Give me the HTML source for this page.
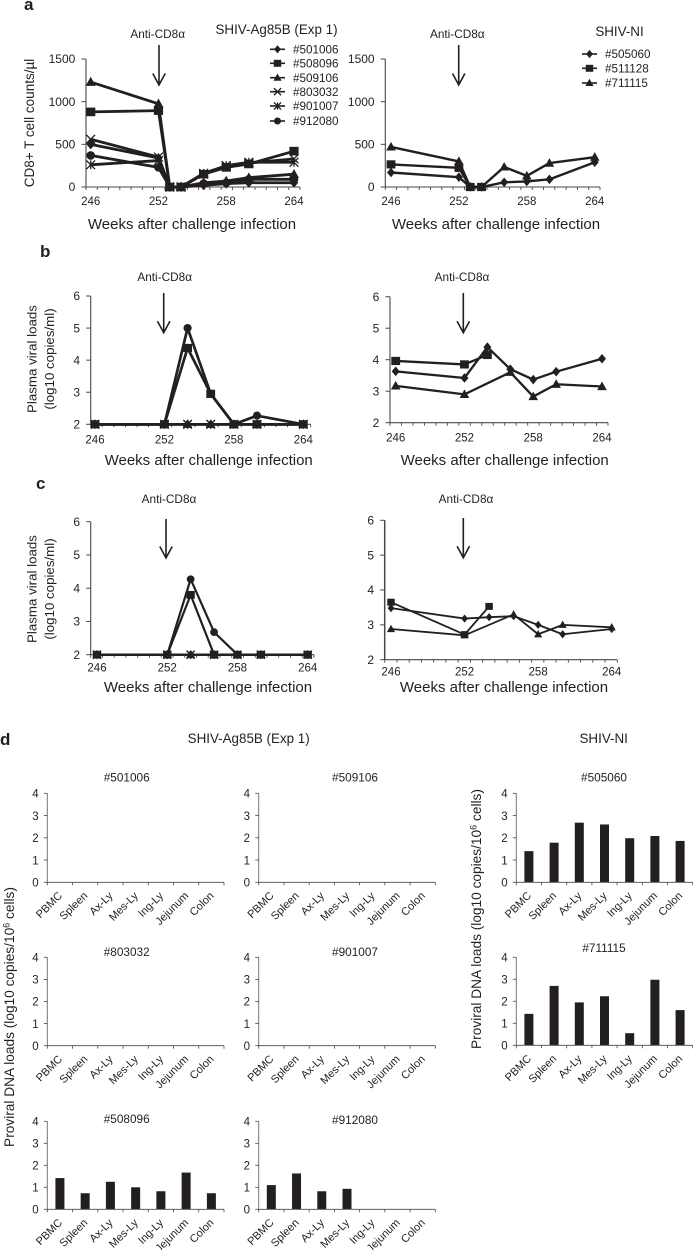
<!DOCTYPE html>
<html lang="en">
<head>
<meta charset="utf-8">
<title>CD8+ T cell counts, viral loads and proviral DNA loads</title>
<style>
html,body{margin:0;padding:0;background:#fff;}
svg{display:block;filter:blur(0.3px);}
text{font-family:"Liberation Sans",Arial,sans-serif;fill:#231f20;}
</style>
</head>
<body>
<svg id="figure" xmlns="http://www.w3.org/2000/svg" width="693" height="1250" viewBox="0 0 693 1250"></svg>
<script>
/* ---------- categories and tick labels ---------- */
const weeksA = [246, 252, 253, 254, 256, 258, 260, 264];
const weeksBC = [246, 252, 254, 256, 258, 260, 264];
const weekTickLabels = [246, 252, 258, 264];
const cd8Ticks = [0, 500, 1000, 1500];
const logTicks = [2, 3, 4, 5, 6];
const dnaTicks = [0, 1, 2, 3, 4];
const tissues = ['PBMC', 'Spleen', 'Ax-Ly', 'Mes-Ly', 'Ing-Ly', 'Jejunum', 'Colon'];

/* ---------- panel a, SHIV-Ag85B ---------- */
const aLeft501006 = [500, 340, 0, 0, 20, 40, 50, 50];
const aLeft508096 = [880, 895, 0, 0, 150, 230, 270, 420];
const aLeft509106 = [1230, 975, 0, 0, 50, 70, 110, 150];
const aLeft803032 = [560, 350, 0, 0, 150, 240, 280, 330];
const aLeft901007 = [260, 310, 0, 0, 160, 250, 290, 290];
const aLeft912080 = [370, 230, 0, 0, 40, 50, 90, 90];

/* ---------- panel a, SHIV-NI ---------- */
const aRight505060 = [170, 115, 0, 0, 55, 65, 90, 290];
const aRight511128 = [265, 225, 0, 0, null, null, null, null];
const aRight711115 = [470, 300, 0, 0, 235, 130, 280, 350];

/* ---------- panel b, SHIV-Ag85B ---------- */
const bLeft501006 = [2, 2, 2, 2, 2, 2, 2];
const bLeft509106 = [2, 2, 2, 2, 2, 2, 2];
const bLeft803032 = [2, 2, 2, 2, 2, 2, 2];
const bLeft901007 = [2, 2, 2, 2, 2, 2, 2];
const bLeft912080 = [2, 2, 5, 2.95, 2, 2.27, 2];
const bLeft508096 = [2, 2, 4.38, 2.95, 2, 2, 2];

/* ---------- panel b, SHIV-NI ---------- */
const bRight505060 = [3.63, 3.42, 4.4, 3.7, 3.37, 3.62, 4.03];
const bRight511128 = [3.96, 3.85, 4.15, null, null, null, null];
const bRight711115 = [3.17, 2.9, null, 3.6, 2.83, 3.22, 3.15];

/* ---------- panel c, SHIV-Ag85B ---------- */
const cLeft501006 = [2, 2, 2, 2, 2, 2, 2];
const cLeft509106 = [2, 2, 2, 2, 2, 2, 2];
const cLeft803032 = [2, 2, 2, 2, 2, 2, 2];
const cLeft901007 = [2, 2, 2, 2, 2, 2, 2];
const cLeft912080 = [2, 2, 4.27, 2.68, 2, 2, 2];
const cLeft508096 = [2, 2, 3.8, 2, 2, 2, 2];

/* ---------- panel c, SHIV-NI ---------- */
const cRight505060 = [3.48, 3.18, 3.22, 3.25, 3.0, 2.73, 2.88];
const cRight511128 = [3.65, 2.72, 3.53, null, null, null, null];
const cRight711115 = [2.88, 2.7, null, 3.3, 2.73, 3.0, 2.93];

/* ---------- panel d, proviral DNA ---------- */
const dna501006 = [0, 0, 0, 0, 0, 0, 0];
const dna509106 = [0, 0, 0, 0, 0, 0, 0];
const dna803032 = [0, 0, 0, 0, 0, 0, 0];
const dna901007 = [0, 0, 0, 0, 0, 0, 0];
const dna508096 = [1.42, 0.73, 1.25, 1.0, 0.82, 1.67, 0.73];
const dna912080 = [1.1, 1.63, 0.82, 0.93, 0, 0, 0];
const dna505060 = [1.4, 1.78, 2.68, 2.6, 1.98, 2.08, 1.86];
const dna711115 = [1.43, 2.7, 1.95, 2.23, 0.55, 2.98, 1.6];

const INK = '#231f20';
const AXIS = '#4a4748';
const svg = document.getElementById('figure');
const NS = 'http://www.w3.org/2000/svg';

function make(parent, tag, attrs) {
  const el = document.createElementNS(NS, tag);
  for (const k in attrs) el.setAttribute(k, attrs[k]);
  parent.appendChild(el);
  return el;
}
function group(parent, name) {
  const g = document.createElementNS(NS, 'g');
  
  
  parent.appendChild(g);
  return g;
}
function label(parent, name, str, x, y, size, anchor, rotate, weight) {
  const t = document.createElementNS(NS, 'text');
  
  
  t.setAttribute('x', x);
  t.setAttribute('y', y);
  t.setAttribute('font-size', size);
  t.setAttribute('text-anchor', anchor || 'middle');
  if (rotate) t.setAttribute('transform', 'rotate(' + rotate + ' ' + x + ' ' + y + ')');
  if (weight) t.setAttribute('font-weight', weight);
  t.textContent = str;
  parent.appendChild(t);
  return t;
}
function marker(parent, shape, x, y, k) {
  const s = k || 1;
  const line = {stroke: INK, 'stroke-width': 1.3, fill: 'none'};
  if (shape === 'diamond') {
    make(parent, 'polygon', {points: [x, y - 4.8 * s, x + 4 * s, y, x, y + 4.8 * s, x - 4 * s, y].join(','), fill: INK});
  } else if (shape === 'square') {
    make(parent, 'rect', {x: x - 4.4 * s, y: y - 4.1 * s, width: 8.8 * s, height: 8.2 * s, fill: INK});
  } else if (shape === 'triangle') {
    make(parent, 'polygon', {points: [x, y - 5 * s, x + 4.8 * s, y + 3.6 * s, x - 4.8 * s, y + 3.6 * s].join(','), fill: INK});
  } else if (shape === 'circle') {
    make(parent, 'circle', {cx: x, cy: y, r: 4.1 * s, fill: INK});
  } else if (shape === 'cross' || shape === 'star') {
    const r = 4.2 * s;
    make(parent, 'line', Object.assign({x1: x - r, y1: y - r, x2: x + r, y2: y + r}, line));
    make(parent, 'line', Object.assign({x1: x - r, y1: y + r, x2: x + r, y2: y - r}, line));
    if (shape === 'star') make(parent, 'line', Object.assign({x1: x, y1: y - r, x2: x, y2: y + r}, line));
  }
}

function linePanel(p) {
  const root = group(svg, p.name);
  const xOf = w => p.p0 + (w - 246) * (p.p1 - p.p0) / 18;
  const yOf = v => p.yBot - (v - p.vMin) * (p.yBot - p.yTop) / (p.vMax - p.vMin);

  const axisY = group(root, p.name + '-y-axis');
  make(axisY, 'line', {x1: p.x0, y1: p.yTop, x2: p.x0, y2: p.yBot, stroke: AXIS, 'stroke-width': p.axisW || 1.1});
  p.yTicks.forEach(v => {
    make(axisY, 'line', {x1: p.x0 - 4.5, y1: yOf(v), x2: p.x0, y2: yOf(v), stroke: AXIS, 'stroke-width': 1});
    label(axisY, p.name + '-y-tick-label', String(v), p.x0 - 10.7, yOf(v) + 4.2, 12, 'end');
  });

  const axisX = group(root, p.name + '-x-axis');
  make(axisX, 'line', {x1: p.x0 - 0.5, y1: p.yBot, x2: p.x1, y2: p.yBot, stroke: AXIS, 'stroke-width': 1.1});
  const n = 19;
  for (let i = 0; i <= n; i++) {
    const tx = p.x0 + i * (p.x1 - p.x0) / n;
    make(axisX, 'line', {x1: tx, y1: p.yBot, x2: tx, y2: p.yBot + 3, stroke: AXIS, 'stroke-width': 0.9});
  }
  weekTickLabels.forEach(w => {
    label(axisX, p.name + '-x-tick-label', String(w), xOf(w), p.tickY, 11.5);
  });
  label(root, p.name + '-x-axis-title', 'Weeks after challenge infection', p.titleX, p.titleY, 15);

  p.series.forEach(s => {
    const g = group(root, p.name + '-series-' + s.id);
    const run = [];
    s.values.forEach((v, i) => {
      if (v !== null) run.push(xOf(p.weeks[i]) + ',' + yOf(v));
    });
    make(g, 'polyline', {points: run.join(' '), fill: 'none', stroke: INK, 'stroke-width': p.lw, 'stroke-linejoin': 'round'});
    s.values.forEach((v, i) => {
      if (v !== null) marker(g, s.shape, xOf(p.weeks[i]), yOf(v), p.ms);
    });
  });

  const arrow = group(root, p.name + '-anti-cd8-arrow');
  make(arrow, 'line', {x1: p.arrowX, y1: p.arrowTop, x2: p.arrowX, y2: p.arrowBot - 1, stroke: INK, 'stroke-width': 1.6});
  make(arrow, 'polyline', {points: [p.arrowX - 6.2, p.arrowBot - 11.5, p.arrowX, p.arrowBot, p.arrowX + 6.2, p.arrowBot - 11.5].join(' '), fill: 'none', stroke: INK, 'stroke-width': 1.6});
  label(root, p.name + '-anti-cd8-label', 'Anti-CD8\u03B1', p.antiX, p.antiY, 11.8);
}

function barPanel(p) {
  const root = group(svg, 'bar-panel-' + p.id);
  const yOf = v => p.yBot - v * (p.yBot - p.yTop) / 4;
  const band = (p.x1 - p.x0) / tissues.length;
  label(root, 'bar-panel-title-' + p.id, '#' + p.id, p.titleX, p.titleY, 11.8);

  tissues.forEach((name, i) => {
    const b = document.createElementNS(NS, 'rect');
    
    
    b.setAttribute('x', p.x0 + band * (i + 0.5) - 4.5);
    b.setAttribute('y', yOf(p.values[i]));
    b.setAttribute('width', 9);
    b.setAttribute('height', yOf(0) - yOf(p.values[i]));
    b.setAttribute('fill', INK);
    root.appendChild(b);
  });

  const axisY = group(root, 'y-axis-' + p.id);
  make(axisY, 'line', {x1: p.x0, y1: p.yTop, x2: p.x0, y2: p.yBot, stroke: '#6a6768', 'stroke-width': 0.9});
  dnaTicks.forEach(v => {
    make(axisY, 'line', {x1: p.x0 - 3.5, y1: yOf(v), x2: p.x0, y2: yOf(v), stroke: AXIS, 'stroke-width': 0.8});
    label(axisY, 'y-tick-label-' + p.id, String(v), p.x0 - 8.7, yOf(v) + 4.2, 11.5, 'end');
  });
  const axisX = group(root, 'x-axis-' + p.id);
  make(axisX, 'line', {x1: p.x0 - 0.5, y1: p.yBot, x2: p.x1, y2: p.yBot, stroke: AXIS, 'stroke-width': 0.9});
  for (let i = 0; i <= tissues.length; i++) {
    const tx = p.x0 + i * band;
    make(axisX, 'line', {x1: tx, y1: p.yBot, x2: tx, y2: p.yBot + 3, stroke: AXIS, 'stroke-width': 0.8});
  }
  tissues.forEach((name, i) => {
    label(axisX, 'x-tick-label-' + p.id, name, p.x0 + band * (i + 0.5) + 3, p.yBot + 14, 11, 'end', -45);
  });
}

function legend(name, rows, markerX, textX) {
  const g = group(svg, name);
  rows.forEach(r => {
    const e = group(g, 'legend-entry-' + r.id);
    make(e, 'line', {x1: markerX - 7.5, y1: r.y, x2: markerX + 7.5, y2: r.y, stroke: INK, 'stroke-width': 1.6});
    marker(e, r.shape, markerX, r.y, 0.85);
    label(e, 'legend-label-' + r.id, '#' + r.id, textX, r.y + 4.2, 11.7, 'start');
  });
}

/* ---------- panel letters and group titles ---------- */
const letters = group(svg, 'panel-letters');
label(letters, 'panel-letter-a', 'a', 24, 10, 17, 'start', 0, 'bold');
label(letters, 'panel-letter-b', 'b', 40, 257, 17, 'start', 0, 'bold');
label(letters, 'panel-letter-c', 'c', 36, 489, 17, 'start', 0, 'bold');
label(letters, 'panel-letter-d', 'd', 0, 745, 17, 'start', 0, 'bold');

label(svg, 'title-shiv-ag85b-panel-a', 'SHIV-Ag85B (Exp 1)', 276.5, 34, 13.4);
label(svg, 'title-shiv-ni-panel-a', 'SHIV-NI', 619.5, 36, 13.4);
label(svg, 'title-shiv-ag85b-panel-d', 'SHIV-Ag85B (Exp 1)', 248.7, 743, 13.4);
label(svg, 'title-shiv-ni-panel-d', 'SHIV-NI', 603.7, 743, 13.4);

label(svg, 'y-axis-title-cd8-counts', 'CD8+ T cell counts/\u00B5l', 34, 123, 13.5, 'middle', -90);
label(svg, 'y-axis-title-viral-loads-b-1', 'Plasma viral loads', 36.5, 359, 13.3, 'middle', -90);
label(svg, 'y-axis-title-viral-loads-b-2', '(log10 copies/ml)', 54, 359, 13.3, 'middle', -90);
label(svg, 'y-axis-title-viral-loads-c-1', 'Plasma viral loads', 36.5, 589, 13.3, 'middle', -90);
label(svg, 'y-axis-title-viral-loads-c-2', '(log10 copies/ml)', 54, 589, 13.3, 'middle', -90);

function dnaTitle(name, x, y) {
  const t = label(svg, name, 'Proviral DNA loads (log10 copies/10', x, y, 13.7, 'middle', -90);
  const sup = make(t, 'tspan', {dy: -4.5, 'font-size': 9});
  sup.textContent = '6';
  const rest = make(t, 'tspan', {dy: 4.5});
  rest.textContent = ' cells)';
}
dnaTitle('y-axis-title-proviral-left', 14, 1017);
dnaTitle('y-axis-title-proviral-right', 481, 919);

/* ---------- line panels ---------- */
linePanel({name: 'cd8-ag85b-chart', x0: 86, x1: 300, p0: 90.7, p1: 294, yTop: 59, yBot: 187, vMin: 0, vMax: 1500,
  yTicks: cd8Ticks, weeks: weeksA, lw: 2.8, ms: 1.05, tickY: 205, titleX: 192, titleY: 229,
  arrowX: 159, arrowTop: 45, arrowBot: 85, antiX: 157.7, antiY: 38.2,
  series: [
    {id: '501006', shape: 'diamond', values: aLeft501006},
    {id: '803032', shape: 'cross', values: aLeft803032},
    {id: '901007', shape: 'star', values: aLeft901007},
    {id: '509106', shape: 'triangle', values: aLeft509106},
    {id: '912080', shape: 'circle', values: aLeft912080},
    {id: '508096', shape: 'square', values: aLeft508096}
  ]});
linePanel({name: 'cd8-ni-chart', x0: 385.3, x1: 600, p0: 391, p1: 594.7, yTop: 59, yBot: 187, vMin: 0, vMax: 1500,
  yTicks: cd8Ticks, weeks: weeksA, lw: 2.4, ms: 1, tickY: 205, titleX: 496, titleY: 229,
  arrowX: 458.7, arrowTop: 45, arrowBot: 85, antiX: 457.3, antiY: 38.2,
  series: [
    {id: '505060', shape: 'diamond', values: aRight505060},
    {id: '711115', shape: 'triangle', values: aRight711115},
    {id: '511128', shape: 'square', values: aRight511128}
  ]});
linePanel({name: 'plasma-ag85b-chart-b', x0: 90.7, x1: 310.7, p0: 95, p1: 303.3, yTop: 296, yBot: 424.3, vMin: 2, vMax: 6,
  yTicks: logTicks, weeks: weeksBC, lw: 2.7, ms: 1, tickY: 443.5, titleX: 208.7, titleY: 465,
  arrowX: 163.7, arrowTop: 293, arrowBot: 332.7, antiX: 164.7, antiY: 281,
  series: [
    {id: '501006', shape: 'diamond', values: bLeft501006},
    {id: '803032', shape: 'cross', values: bLeft803032},
    {id: '901007', shape: 'star', values: bLeft901007},
    {id: '509106', shape: 'triangle', values: bLeft509106},
    {id: '912080', shape: 'circle', values: bLeft912080},
    {id: '508096', shape: 'square', values: bLeft508096}
  ]});
linePanel({name: 'plasma-ni-chart-b', x0: 390, x1: 608, p0: 395.7, p1: 602, yTop: 296.7, yBot: 422.7, vMin: 2, vMax: 6,
  yTicks: logTicks, weeks: weeksBC, lw: 2.3, ms: 1, tickY: 441.5, titleX: 504.7, titleY: 465,
  arrowX: 463.3, arrowTop: 293, arrowBot: 332.7, antiX: 462, antiY: 281,
  series: [
    {id: '505060', shape: 'diamond', values: bRight505060},
    {id: '711115', shape: 'triangle', values: bRight711115},
    {id: '511128', shape: 'square', values: bRight511128}
  ]});
linePanel({name: 'plasma-ag85b-chart-c', x0: 90.7, x1: 314, p0: 97, p1: 307.7, yTop: 521.7, yBot: 654.7, vMin: 2, vMax: 6,
  yTicks: logTicks, weeks: weeksBC, lw: 2.2, ms: 0.95, tickY: 671.5, titleX: 208, titleY: 692,
  arrowX: 166, arrowTop: 519, arrowBot: 558, antiX: 169, antiY: 503.2,
  series: [
    {id: '501006', shape: 'diamond', values: cLeft501006},
    {id: '803032', shape: 'cross', values: cLeft803032},
    {id: '901007', shape: 'star', values: cLeft901007},
    {id: '509106', shape: 'triangle', values: cLeft509106},
    {id: '912080', shape: 'circle', values: cLeft912080},
    {id: '508096', shape: 'square', values: cLeft508096}
  ]});
linePanel({name: 'plasma-ni-chart-c', x0: 384.7, x1: 617.3, p0: 391, p1: 611.7, yTop: 520.3, yBot: 659.7, vMin: 2, vMax: 6, axisW: 1.5,
  yTicks: logTicks, weeks: weeksBC, lw: 1.8, ms: 0.85, tickY: 675.5, titleX: 504, titleY: 692,
  arrowX: 463.3, arrowTop: 518, arrowBot: 557.7, antiX: 466, antiY: 503.2,
  series: [
    {id: '505060', shape: 'diamond', values: cRight505060},
    {id: '711115', shape: 'triangle', values: cRight711115},
    {id: '511128', shape: 'square', values: cRight511128}
  ]});

/* ---------- legends ---------- */
legend('legend-ag85b', [
  {id: '501006', shape: 'diamond', y: 49.3},
  {id: '508096', shape: 'square', y: 63.3},
  {id: '509106', shape: 'triangle', y: 77.7},
  {id: '803032', shape: 'cross', y: 91.7},
  {id: '901007', shape: 'star', y: 106},
  {id: '912080', shape: 'circle', y: 121}
], 277.5, 293);
legend('legend-ni', [
  {id: '505060', shape: 'diamond', y: 54},
  {id: '511128', shape: 'square', y: 68.3},
  {id: '711115', shape: 'triangle', y: 83}
], 589.5, 605);

/* ---------- bar panels ---------- */
barPanel({id: '501006', values: dna501006, x0: 47.3, x1: 224, yTop: 793.3, yBot: 882.3, titleX: 126.7, titleY: 781.5});
barPanel({id: '509106', values: dna509106, x0: 258.7, x1: 435.3, yTop: 793.3, yBot: 882.3, titleX: 355, titleY: 781.5});
barPanel({id: '505060', values: dna505060, x0: 516.3, x1: 692.7, yTop: 793.3, yBot: 882.3, titleX: 604, titleY: 781.5});
barPanel({id: '803032', values: dna803032, x0: 47.3, x1: 224, yTop: 957.3, yBot: 1045.7, titleX: 126.7, titleY: 956});
barPanel({id: '901007', values: dna901007, x0: 258.7, x1: 435.3, yTop: 957.3, yBot: 1045.7, titleX: 355, titleY: 956});
barPanel({id: '711115', values: dna711115, x0: 516.3, x1: 692.7, yTop: 957.3, yBot: 1045.3, titleX: 604, titleY: 952});
barPanel({id: '508096', values: dna508096, x0: 47.3, x1: 224, yTop: 1121.3, yBot: 1209.3, titleX: 126.7, titleY: 1123});
barPanel({id: '912080', values: dna912080, x0: 258.7, x1: 435.3, yTop: 1121.3, yBot: 1209.3, titleX: 355, titleY: 1124});
</script>
</body>
</html>
